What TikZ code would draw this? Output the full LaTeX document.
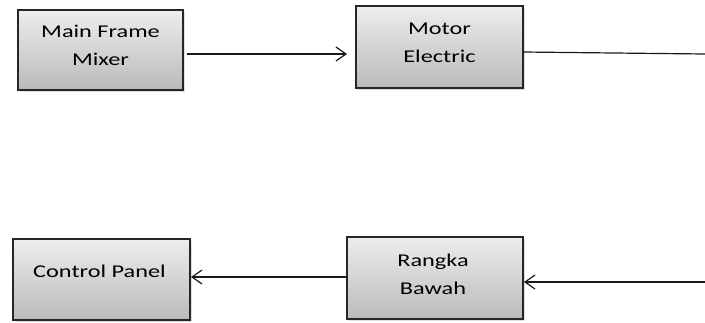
\documentclass[tikz,border=0pt]{standalone}
\usepackage{fontspec}
\setmainfont{Carlito}
\usetikzlibrary{arrows.meta,shadows}
\begin{document}
\begin{tikzpicture}[x=1pt,y=-1pt,
  blockbox/.style={draw=black!85,line width=1.3pt,top color=black!7,bottom color=black!27,
    drop shadow={shadow xshift=1.5pt,shadow yshift=-1.5pt,opacity=0.25},inner sep=0pt},
  blocktext/.style={font=\fontsize{18}{28}\selectfont,align=center,xscale=1.35,transform shape,text=black,inner sep=0pt},
  conn/.style={line width=1.2pt,draw=black!90},
  tip/.style={-{Straight Barb[length=10pt,width=14pt,line width=1.2pt]}}]
\useasboundingbox (0,0) rectangle (705,322);
% boxes
\node[blockbox,minimum width=165pt,minimum height=80pt] (A) at (100.5,50) {};
\node[blockbox,minimum width=167pt,minimum height=82pt] (B) at (439.5,47) {};
\node[blockbox,minimum width=177pt,minimum height=81pt] (C) at (101.5,279.5) {};
\node[blockbox,minimum width=176pt,minimum height=82pt] (D) at (435,278) {};
% texts
\node[blocktext] (ta) at (100.5,45.6) {Main Frame\\Mixer};
\node[blocktext] (tb) at (439.5,42.6) {Motor\\Electric};
\node[blocktext] (tc) at (99.5,271.8) {Control Panel};
\node[blocktext] (td) at (433,274.3) {Rangka\\Bawah};
% connector points
\coordinate (a1) at (187,54);
\coordinate (b0) at (347,54);
\coordinate (b1) at (523,52);
\coordinate (e1) at (705,54);
\coordinate (e2) at (705,282);
\coordinate (d1) at (524,282);
\coordinate (d0) at (347,277);
\coordinate (c1) at (191,277);
% connectors
\draw[conn,tip] (a1) -- (b0);
\draw[conn] (b1) -- (e1);
\draw[conn,tip] (e2) -- (d1);
\draw[conn,tip] (d0) -- (c1);
\end{tikzpicture}
\end{document}
